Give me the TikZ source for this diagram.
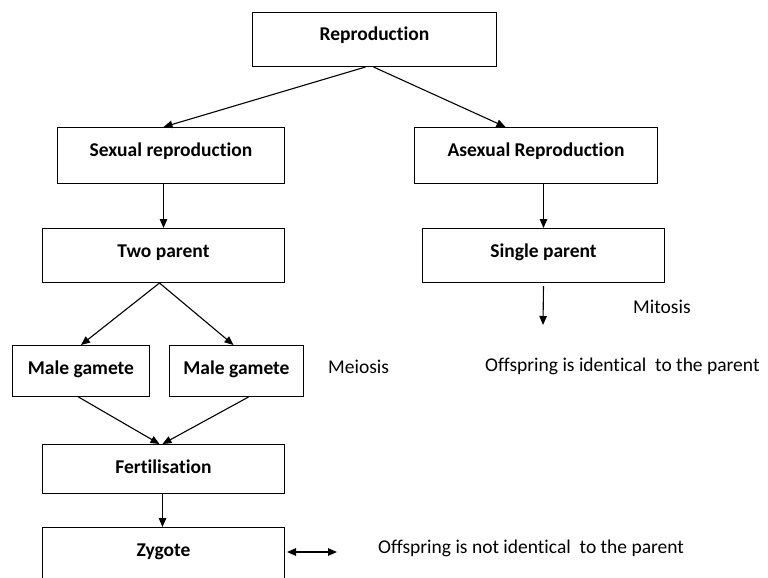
\documentclass[tikz,border=0pt]{standalone}
\usepackage{fontspec}
\setmainfont{Carlito}[Ligatures={NoCommon}]
\usetikzlibrary{arrows.meta,positioning,calc}
\tikzset{
  stagebox/.style={draw, line width=1pt, anchor=north west, inner sep=0pt, align=center, text height=28.5pt, font=\fontsize{19.5}{23}\selectfont\bfseries},
  notetext/.style={anchor=west, inner sep=0pt, font=\fontsize{19.5}{23}\selectfont},
  flowarrow/.style={-{Triangle[length=9pt,width=7.5pt]}, line width=1.1pt},
  twowayarrow/.style={{Triangle[length=9pt,width=7.5pt]}-{Triangle[length=9pt,width=7.5pt]}, line width=1.1pt}
}
\begin{document}
\begin{tikzpicture}[x=1pt,y=-1pt]
\useasboundingbox (0,0) rectangle (768,578);
\clip (0,0) rectangle (768,578);
\node[stagebox, minimum width=244pt, text depth=25.5pt] (repro) at (252,12) {Reproduction};
\node[stagebox, minimum width=227pt, text depth=27.5pt] (sexual) at (57,127) {Sexual reproduction};
\node[stagebox, minimum width=243pt, text depth=27.5pt] (asexual) at (414,127) {Asexual Reproduction};
\node[stagebox, minimum width=242pt, text depth=25.5pt] (twop) at (42,228) {Two parent};
\node[stagebox, minimum width=242pt, text depth=25.5pt] (single) at (422,228) {Single parent};
\node[stagebox, minimum width=137pt, text depth=22.5pt] (male1) at (12,345) {Male gamete};
\node[stagebox, minimum width=134pt, text depth=22.5pt] (male2) at (169,345) {Male gamete};
\node[stagebox, minimum width=242pt, text depth=20.5pt] (fert) at (42,444) {Fertilisation};
\node[stagebox, minimum width=242pt, text depth=60pt] (zygote) at (42,527) {Zygote};
\node[notetext] (mitosis) at (633,307) {Mitosis};
\node[notetext] (meiosis) at (328,367) {Meiosis};
\node[notetext] (identical) at (485,366) {Offspring is identical~ to the parent};
\node[notetext] (notident) at (378,548) {Offspring is not identical~ to the parent};
\coordinate (mitend) at (543,325);
\coordinate (zygright) at (337,552);
% connectors
\draw[flowarrow] ([xshift=-9pt]repro.south) -- ([xshift=-7.5pt]sexual.north);
\draw[flowarrow] ([xshift=-1pt]repro.south) -- ([xshift=-30.5pt]asexual.north);
\draw[flowarrow] (sexual.south -| twop.north) -- (twop.north);
\draw[flowarrow] (asexual.south -| single.north) -- (single.north);
\draw[flowarrow] ([yshift=-3pt]single.south) -- (mitend);
\draw[flowarrow] ([xshift=-4pt]twop.south) -- (male1.north);
\draw[flowarrow] ([xshift=-4pt]twop.south) -- ([xshift=-3pt]male2.north);
\draw[flowarrow] ([xshift=-2.5pt]male1.south) -- ([xshift=-4pt]fert.north);
\draw[flowarrow] ([xshift=12pt]male2.south) -- ([xshift=-1pt]fert.north);
\draw[flowarrow] ([xshift=-1pt]fert.south) -- ([xshift=-1pt]zygote.north);
\draw[twowayarrow, shorten <=2pt] (zygote.east |- zygright) -- (zygright);
\end{tikzpicture}
\end{document}
